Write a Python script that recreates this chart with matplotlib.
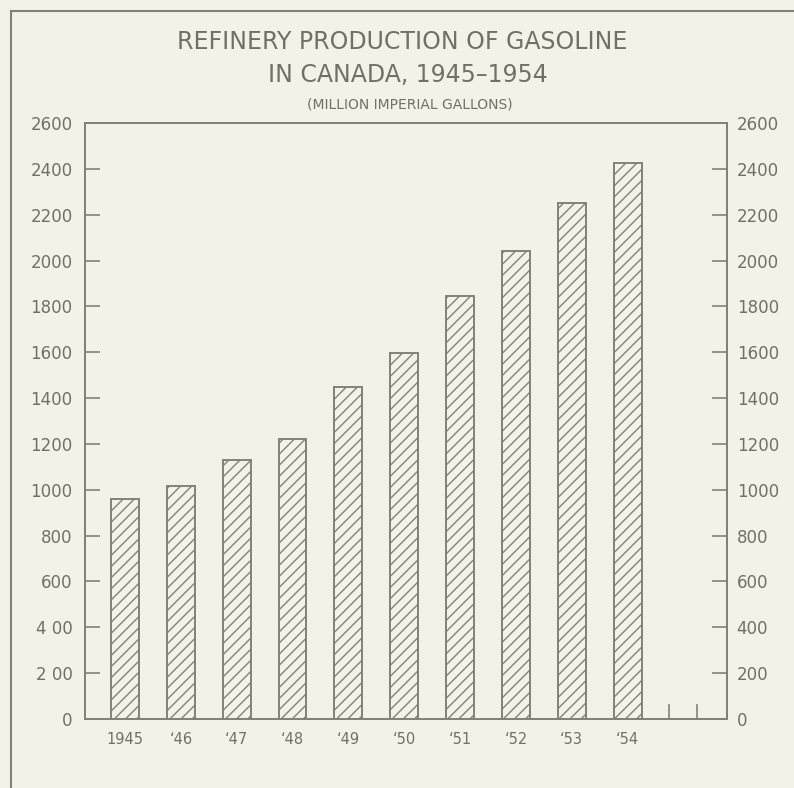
import matplotlib
matplotlib.use("Agg")
import matplotlib.pyplot as plt
from matplotlib.lines import Line2D

# ---- data ----
years = ["1945", "\u201846", "\u201847", "\u201848", "\u201849",
         "\u201850", "\u201851", "\u201852", "\u201853", "\u201854"]
production = [960, 1017, 1130, 1222, 1447, 1597, 1844, 2043, 2252, 2426]
y_ticks = [0, 200, 400, 600, 800, 1000, 1200, 1400, 1600, 1800,
           2000, 2200, 2400, 2600]
y_tick_labels = ["0", "2 00", "4 00", "600", "800", "1000", "1200", "1400",
                 "1600", "1800", "2000", "2200", "2400", "2600"]
y_tick_labels_right = ["0", "200", "400", "600", "800", "1000", "1200", "1400",
                       "1600", "1800", "2000", "2200", "2400", "2600"]
title1 = "REFINERY PRODUCTION OF GASOLINE"
title2 = "IN CANADA, 1945\u20131954"
subtitle = "(MILLION IMPERIAL GALLONS)"

# ---- style ----
BG = "#f3f2e8"
INK = "#6f7166"
LINE = "#818377"
plt.rcParams["hatch.linewidth"] = 1.0
plt.rcParams["font.family"] = ["DejaVu Sans"]

W, H = 794, 788
fig = plt.figure(figsize=(W / 100, H / 100), dpi=100, facecolor=BG)
ax = fig.add_axes([85 / W, 1 - 719 / H, 642 / W, 596 / H], facecolor=BG)

x = list(range(len(years)))
ax.bar(x, production, width=0.5, facecolor=BG, edgecolor=LINE,
       hatch="///", linewidth=1.4, zorder=2)

ax.set_xlim(-0.716, 10.78)
ax.set_ylim(0, 2600)

# extra short ticks at the baseline to the right of the bars
for xp in (9.745, 10.245):
    ax.plot([xp, xp], [0, 60], color=LINE, lw=1.2, zorder=3)

ax.set_xticks(x)
ax.set_xticklabels(years, fontsize=10.5, color=INK)
ax.tick_params(axis="x", length=0, pad=9)

ax.set_yticks(y_ticks)
ax.set_yticklabels(y_tick_labels, fontsize=12, color=INK)
ax.tick_params(axis="y", direction="in", length=11, width=1.2, color=LINE,
               left=True, right=True, labelleft=True, labelright=False, pad=9)

ax2 = ax.twinx()
ax2.set_ylim(0, 2600)
ax2.set_yticks(y_ticks)
ax2.set_yticklabels(y_tick_labels_right, fontsize=12, color=INK)
ax2.tick_params(axis="y", direction="in", length=11, width=1.2, color=LINE, pad=7)

for a in (ax, ax2):
    for s in a.spines.values():
        s.set_color(LINE)
        s.set_linewidth(1.3)

# titles
fig.text(402 / W, 1 - 42 / H, title1, ha="center", va="center",
         fontsize=17, color=INK)
fig.text(408 / W, 1 - 75 / H, title2, ha="center", va="center",
         fontsize=17, color=INK)
fig.text(410 / W, 1 - 104 / H, subtitle, ha="center", va="center",
         fontsize=10, color=INK)

# outer frame (left and top edges)
fig.add_artist(Line2D([11 / W, 11 / W], [0, 1 - 11 / H], transform=fig.transFigure,
                      color=LINE, lw=1.5))
fig.add_artist(Line2D([11 / W, 1], [1 - 11 / H, 1 - 11 / H], transform=fig.transFigure,
                      color=LINE, lw=1.5))

fig.savefig("out.png", dpi=100, facecolor=BG)
